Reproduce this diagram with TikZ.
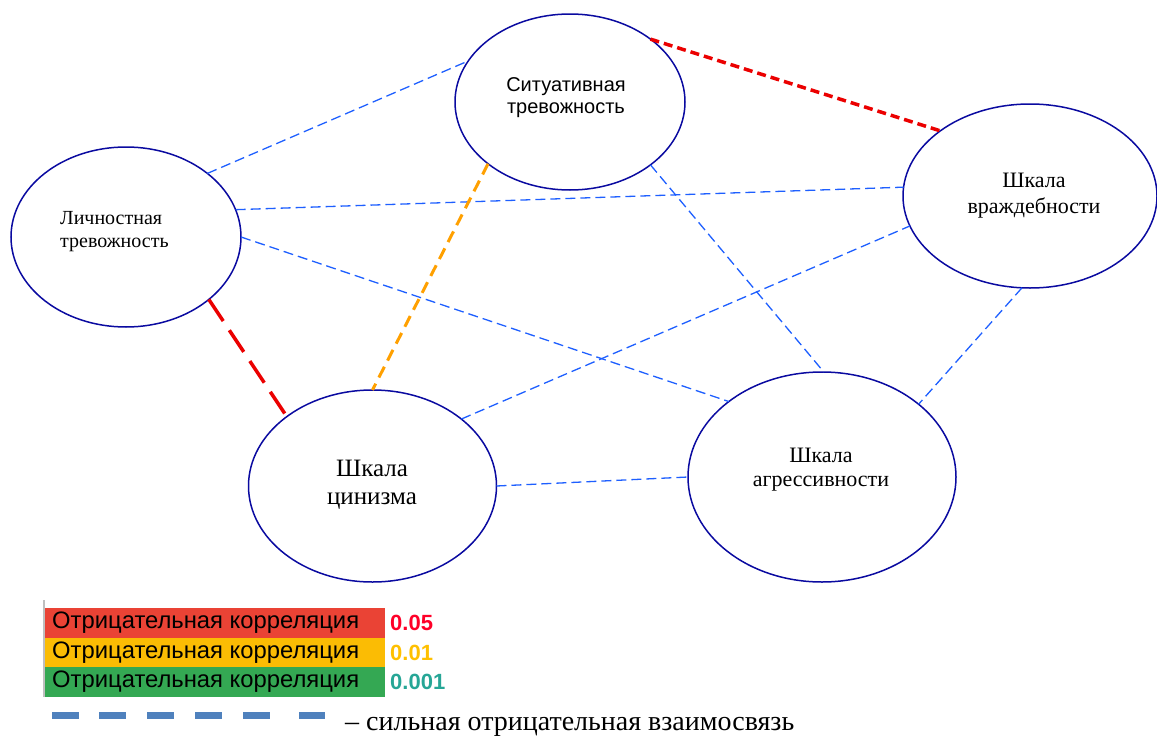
\documentclass[tikz,border=0pt]{standalone}
\usepackage{fontspec}
\setmainfont{Liberation Serif}
\newfontfamily\arialf{Liberation Sans}
\usetikzlibrary{shapes.geometric}
\definecolor{navyc}{RGB}{10,10,160}
\definecolor{lblue}{RGB}{30,95,255}
\definecolor{redc}{RGB}{235,0,0}
\definecolor{orangec}{RGB}{255,160,0}
\definecolor{rowred}{RGB}{234,67,53}
\definecolor{rowyel}{RGB}{251,188,4}
\definecolor{rowgrn}{RGB}{52,168,83}
\definecolor{numred}{RGB}{255,0,40}
\definecolor{numyel}{RGB}{255,192,0}
\definecolor{numgrn}{RGB}{38,166,150}
\definecolor{legblue}{RGB}{79,129,189}
\begin{document}
\begin{tikzpicture}[x=1pt,y=-1pt,
  ell/.style={ellipse, draw=navyc, line width=1.5pt, inner sep=0pt, outer sep=0pt},
  bl/.style={draw=lblue, line width=1.3pt, dash pattern=on 10pt off 5pt},
  redshort/.style={draw=redc, line width=3.5pt, dash pattern=on 9pt off 5pt},
  redlong/.style={draw=redc, line width=3.5pt, dash pattern=on 26pt off 11pt},
  orng/.style={draw=orangec, line width=3pt, dash pattern=on 12pt off 7pt},
  lbl/.style={inner sep=0pt, align=center},
  legtxt/.style={inner sep=0pt, anchor=west, font=\arialf\fontsize{23.8}{25}\selectfont},
  legnum/.style={inner sep=0pt, anchor=west, font=\arialf\bfseries\fontsize{22}{24}\selectfont}
]
\useasboundingbox (0,0) rectangle (1157,736);

% ellipses
\node[ell, minimum width=230pt, minimum height=180pt] (L) at (126,237) {};
\node[ell, minimum width=230pt, minimum height=176pt] (S) at (570,102) {};
\node[ell, minimum width=254pt, minimum height=184pt] (V) at (1030,196) {};
\node[ell, minimum width=248pt, minimum height=192pt] (C) at (372.5,486) {};
\node[ell, minimum width=268pt, minimum height=210pt] (A) at (822,477) {};

% labels
\node[lbl, align=left, anchor=west, font=\fontsize{20}{23}\selectfont] (Lt) at (60,232) {Личностная\\тревожность};
\node[lbl, font=\arialf\fontsize{20}{22}\selectfont] (St) at (566,98) {Ситуативная\\тревожность};
\node[lbl, font=\fontsize{22}{26}\selectfont] (Vt) at (1034,196) {Шкала\\враждебности};
\node[lbl, font=\fontsize{25}{28}\selectfont] (Ct) at (372,485) {Шкала\\цинизма};
\node[lbl, font=\fontsize{22}{24}\selectfont] (At) at (821,470) {Шкала\\агрессивности};

% connectors
\draw[bl] (L.38.4) -- (S.158.1);
\draw[bl] (L.14.2) -- (V.176.9);
\draw[bl] (L.0) -- (A.141.7);
\draw[bl] (S.-38.4) -- (A.89.5);
\draw[bl] (C.37.8) -- (V.194.9);
\draw[bl] (C.-0.5) -- (A.180.4);
\draw[bl] (V.265.7) -- (A.37.6);
\draw[redshort] (S.38.6) -- (V.144.2);
\draw[redlong] (L.-37.9) -- (C.141.7);
\draw[orng] (S.217.2) -- (C.90);

% legend table
\draw[draw=black!25, line width=1.5pt] (44,600) -- (44,697);
\fill[rowred] (45,608) rectangle (385,638);
\fill[rowyel] (45,638) rectangle (385,667);
\fill[rowgrn] (45,667) rectangle (385,697);
\node[legtxt] (r1) at (52,623) {Отрицательная корреляция};
\node[legtxt] (r2) at (52,652.5) {Отрицательная корреляция};
\node[legtxt] (r3) at (52,682) {Отрицательная корреляция};
\node[legnum, text=numred] (n1) at (390,623) {0.05};
\node[legnum, text=numyel] (n2) at (390,652.5) {0.01};
\node[legnum, text=numgrn] (n3) at (390,682) {0.001};

% legend line
\coordinate (d1) at (52,715.5);
\coordinate (d2) at (325,715.5);
\draw[legblue, line width=7pt, dash pattern=on 27pt off 20pt on 27pt off 21pt on 27pt off 21pt on 27pt off 21pt on 27pt off 29pt on 27pt off 100pt] (d1) -- (d2);
\node[inner sep=0pt, anchor=base west, font=\fontsize{28}{30}\selectfont] (lt) at (345,730) {– сильная отрицательная взаимосвязь};
\end{tikzpicture}
\end{document}
